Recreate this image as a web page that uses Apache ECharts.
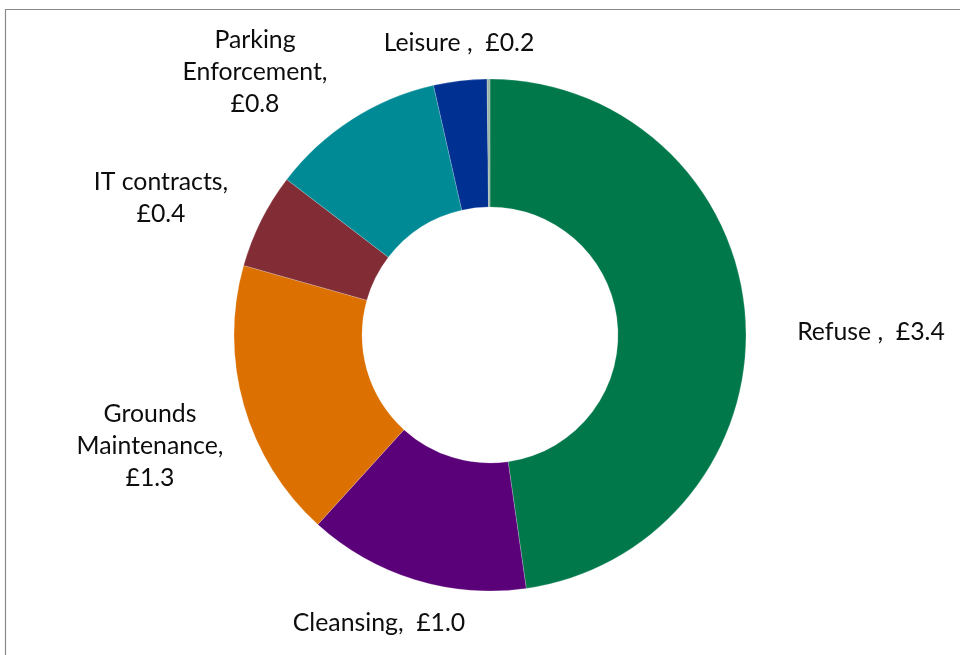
<!DOCTYPE html>
<html>
<head>
<meta charset="utf-8">
<style>
  html, body { margin: 0; padding: 0; background: #ffffff; }
  #chart { width: 960px; height: 655px; }
</style>
<script src="https://cdn.jsdelivr.net/npm/echarts@6/dist/echarts.min.js"></script>
</head>
<body>
<div id="chart"></div>
<script>
// ---- data (£m) ----
const categories = ['Refuse ', 'Cleansing', 'Grounds\nMaintenance', 'IT contracts', 'Parking\nEnforcement', 'Leisure ', 'Other'];
const values     = [3.41, 1.00, 1.26, 0.43, 0.79, 0.24, 0.013];
const colors     = ['#00784A', '#5A0078', '#DC7000', '#822D35', '#008A96', '#003192', '#9CB5A5'];

// ---- label layout (style, not data) ----
const separators   = ['  ', '  ', '\n', '\n', '\n', '  ', ''];
const showLabel    = [true, true, true, true, true, true, false];
const labelCenters = [[871, 332], [379, 623], [150, 446], [161, 198], [255, 72], [459, 43], [0, 0]];

const chart = echarts.init(document.getElementById('chart'), null, { renderer: 'canvas' });

const option = {
  backgroundColor: '#ffffff',
  animation: false,
  graphic: [{
    type: 'rect',
    shape: { x: 5.5, y: 9.5, width: 1200, height: 1000 },
    style: { fill: 'none', stroke: '#8A8A8A', lineWidth: 1.2 },
    silent: true,
    z: -10
  }],
  series: [{
    type: 'pie',
    center: [490, 335],
    radius: [128, 256],
    startAngle: 90,
    clockwise: true,
    avoidLabelOverlap: false,
    itemStyle: { borderColor: 'rgba(255,255,255,0.4)', borderWidth: 0.5 },
    emphasis: { disabled: true },
    label: {
      show: true,
      position: 'outside',
      fontFamily: 'Lato, "Noto Sans", sans-serif',
      fontSize: 24.8,
      lineHeight: 32,
      color: '#0d0d0d',
      align: 'center',
      formatter: function (p) {
        return p.name + ',' + separators[p.dataIndex] + '£' + p.value.toFixed(1);
      }
    },
    labelLine: { show: false },
    labelLayout: function (params) {
      const c = labelCenters[params.dataIndex];
      return { x: c[0], y: c[1], align: 'center', verticalAlign: 'middle' };
    },
    data: categories.map(function (name, i) {
      return {
        name: name,
        value: values[i],
        itemStyle: { color: colors[i] },
        label: { show: showLabel[i] }
      };
    })
  }]
};

chart.setOption(option);
</script>
</body>
</html>
